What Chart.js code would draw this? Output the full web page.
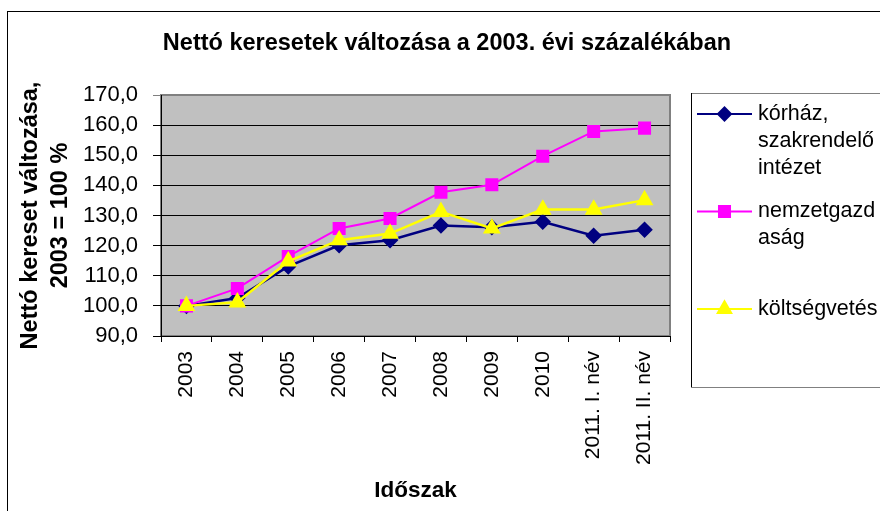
<!DOCTYPE html>
<html>
<head>
<meta charset="utf-8">
<script src="https://cdn.jsdelivr.net/npm/chart.js@4/dist/chart.umd.min.js"></script>
<style>
html,body{margin:0;padding:0;background:#fff;}
canvas{display:block;}
</style>
</head>
<body>
<canvas id="c" width="880" height="511"></canvas>
<script>
// ---- data ----
const categories = ['2003','2004','2005','2006','2007','2008','2009','2010','2011. I. név','2011. II. név'];
const korhaz = [100.0, 102.6, 113.1, 120.1, 121.8, 126.7, 126.1, 127.9, 123.3, 125.3];
const nemzetgazdasag = [100.0, 105.8, 116.4, 125.7, 129.0, 137.7, 140.2, 149.7, 157.9, 159.0];
const koltsegvetes = [100.0, 101.2, 114.8, 121.8, 124.0, 131.2, 125.7, 132.0, 132.0, 135.1];
const seriesNames = ['kórház, szakrendelő intézet', 'nemzetgazdaság', 'költségvetés'];
const legendLines = [['kórház,', 'szakrendelő', 'intézet'], ['nemzetgazd', 'aság'], ['költségvetés']];
const yMin = 90, yMax = 170, yStep = 10;
const titleText = 'Nettó keresetek változása a 2003. évi százalékában';
const yTitle = ['Nettó kereset változása,', '2003 = 100 %'];
const xTitle = 'Időszak';

const FONT = '"Liberation Sans", Arial, Helvetica, sans-serif';
Chart.defaults.font.family = FONT;
Chart.defaults.color = '#000';

const bgPlugin = {
  id: 'bg',
  beforeDraw(chart) {
    const {ctx, chartArea: a} = chart;
    ctx.save();
    ctx.fillStyle = '#fff';
    ctx.fillRect(0, 0, chart.width, chart.height);
    ctx.strokeStyle = '#000';
    ctx.lineWidth = 1;
    ctx.strokeRect(7.5, 11.5, chart.width + 50, chart.height + 50);
    ctx.fillStyle = '#c0c0c0';
    ctx.fillRect(a.left, a.top, a.right - a.left, a.bottom - a.top);
    ctx.strokeStyle = '#808080';
    ctx.lineWidth = 2;
    ctx.strokeRect(a.left, a.top, a.right - a.left, a.bottom - a.top);
    ctx.restore();
  }
};

const legendPlugin = {
  id: 'sideLegend',
  afterDraw(chart) {
    const {ctx, chartArea: a} = chart;
    const boxL = a.right + 21, boxT = 93, boxB = 387;
    ctx.save();
    ctx.lineWidth = 1;
    ctx.strokeStyle = '#808080';
    ctx.beginPath();
    ctx.moveTo(boxL, boxT + 0.5); ctx.lineTo(chart.width + 5, boxT + 0.5);
    ctx.moveTo(boxL, boxB + 0.5); ctx.lineTo(chart.width + 5, boxB + 0.5);
    ctx.stroke();
    ctx.strokeStyle = '#000';
    ctx.beginPath();
    ctx.moveTo(boxL + 0.5, boxT); ctx.lineTo(boxL + 0.5, boxB);
    ctx.stroke();
    const lh = 27, slot = 84, firstCenter = 141;
    ctx.font = '21.5px ' + FONT;
    ctx.textBaseline = 'middle';
    ctx.textAlign = 'left';
    chart.data.datasets.forEach((ds, i) => {
      const lines = legendLines[i];
      const center = firstCenter + i * slot;
      const y0 = center - (lines.length - 1) * lh / 2;
      ctx.strokeStyle = ds.borderColor;
      ctx.lineWidth = 2;
      ctx.beginPath();
      ctx.moveTo(boxL + 6, y0); ctx.lineTo(boxL + 61, y0);
      ctx.stroke();
      ctx.fillStyle = ds.pointBackgroundColor;
      ctx.strokeStyle = ds.pointBorderColor;
      const opts = {pointStyle: ds.pointStyle, radius: ds.pointRadius, borderWidth: 1, rotation: 0};
      if (Chart.helpers && Chart.helpers.drawPoint) {
        Chart.helpers.drawPoint(ctx, opts, boxL + 33.5, y0);
      }
      ctx.fillStyle = '#000';
      lines.forEach((t, k) => ctx.fillText(t, boxL + 67, y0 + k * lh));
    });
    ctx.restore();
  }
};

const yTickValues = [];
for (let v = yMin; v <= yMax; v += yStep) yTickValues.push(v);

new Chart(document.getElementById('c'), {
  type: 'line',
  data: {
    labels: categories,
    datasets: [
      {label: seriesNames[0], data: korhaz, borderColor: '#000080', backgroundColor: '#000080',
       pointBackgroundColor: '#000080', pointBorderColor: '#000080', borderWidth: 2.5,
       pointStyle: 'rectRot', pointRadius: 6.5, pointHoverRadius: 6.5, tension: 0, order: 3},
      {label: seriesNames[1], data: nemzetgazdasag, borderColor: '#ff00ff', backgroundColor: '#ff00ff',
       pointBackgroundColor: '#ff00ff', pointBorderColor: '#ff00ff', borderWidth: 2,
       pointStyle: 'rect', pointRadius: 7.8, pointHoverRadius: 7.8, tension: 0, order: 2},
      {label: seriesNames[2], data: koltsegvetes, borderColor: '#ffff00', backgroundColor: '#ffff00',
       pointBackgroundColor: '#ffff00', pointBorderColor: '#ffff00', borderWidth: 2.5,
       pointStyle: 'triangle', pointRadius: 7.8, pointHoverRadius: 7.8, tension: 0, order: 1}
    ]
  },
  options: {
    responsive: false,
    animation: false,
    devicePixelRatio: 1,
    layout: {padding: {left: 14, right: 0, top: 0, bottom: 0}},
    plugins: {
      legend: {display: false},
      tooltip: {enabled: false},
      title: {
        display: true, text: titleText, color: '#000',
        font: {size: 23.5, weight: 'bold', lineHeight: 1.2},
        padding: {top: 29, bottom: 37.8}
      }
    },
    scales: {
      x: {
        type: 'category',
        offset: true,
        grid: {display: true, drawOnChartArea: false, drawTicks: true, tickLength: 6, color: '#000', offset: true},
        border: {display: true, color: '#000', width: 1},
        ticks: {font: {size: 21}, color: '#000', maxRotation: 90, minRotation: 90, autoSkip: false, padding: 9},
        title: {display: true, text: xTitle, color: '#000', font: {size: 22.5, weight: 'bold', lineHeight: 1.2}, padding: {top: 0, bottom: 7}},
        afterFit(s) { s.height = 175; }
      },
      y: {
        position: 'left',
        min: yMin, max: yMax,
        grid: {color: (c) => (c.tick && c.tick.value === yMax) ? '#808080' : '#000', tickLength: 8, drawTicks: true},
        border: {display: true, color: '#000', width: 1},
        ticks: {
          font: {size: 22}, color: '#000', padding: 15, stepSize: yStep,
          callback: (v) => Number(v).toFixed(1).replace('.', ',')
        },
        afterBuildTicks(s) { s.ticks = yTickValues.map(v => ({value: v})); },
        title: {display: true, text: yTitle, color: '#000', font: {size: 23.5, weight: 'bold', lineHeight: 1.3}, padding: {top: 1, bottom: 0}},
        afterFit(s) { s.width = 147; }
      },
      yRight: {
        position: 'right',
        display: true,
        grid: {display: false, drawTicks: false},
        border: {display: false},
        ticks: {display: false},
        afterFit(s) { s.width = 210; }
      }
    }
  },
  plugins: [bgPlugin, legendPlugin]
});
</script>
</body>
</html>
